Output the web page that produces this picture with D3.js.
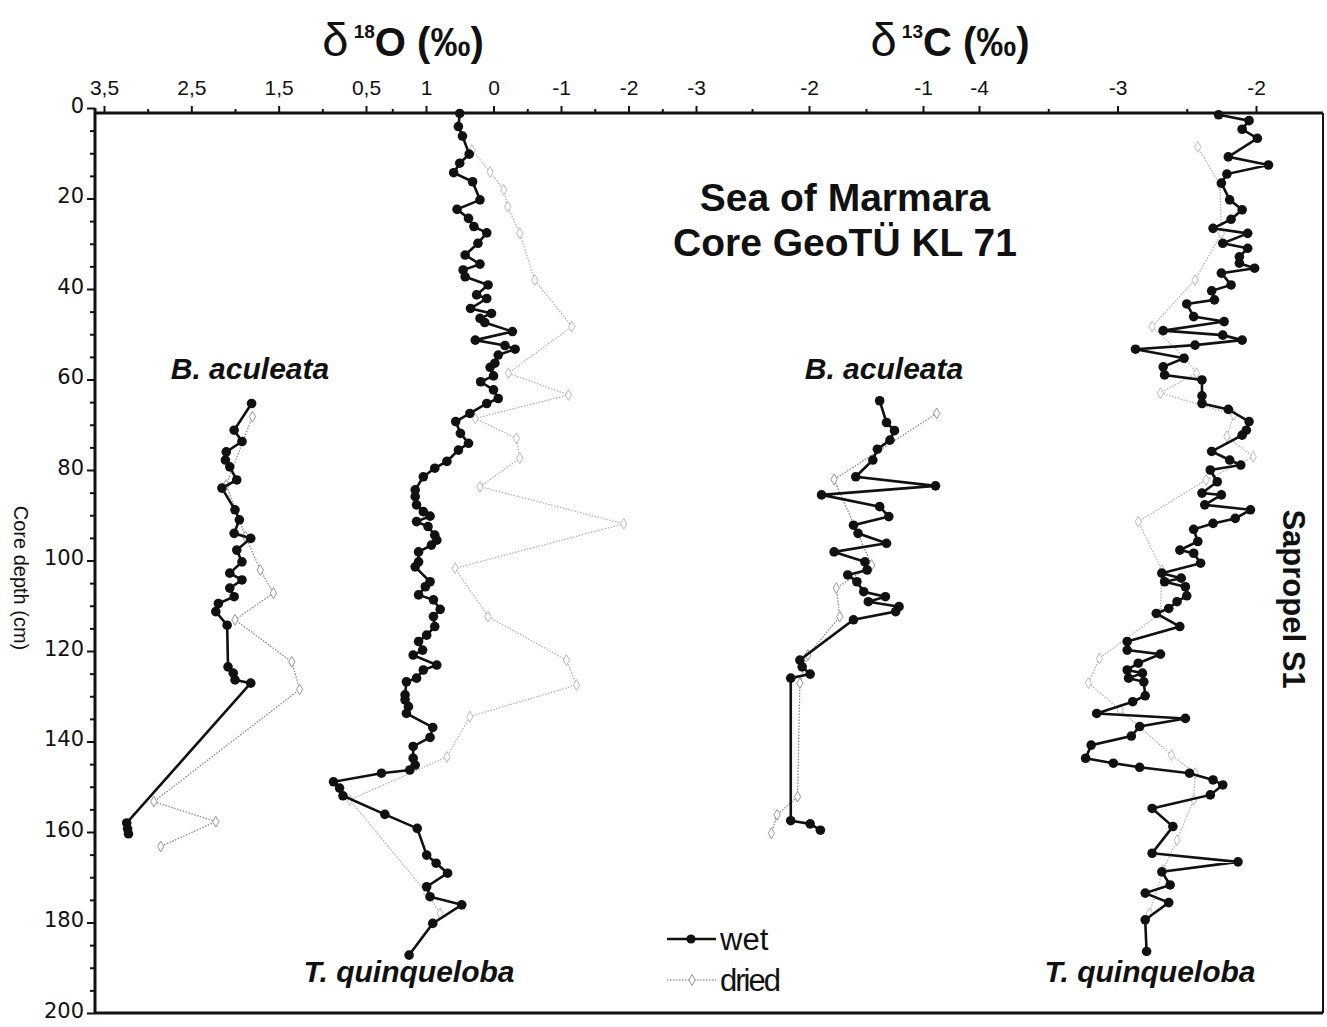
<!DOCTYPE html>
<html>
<head>
<meta charset="utf-8">
<script src="https://cdn.jsdelivr.net/npm/d3@7"></script>
<style>
  body { margin: 0; background: #fff; }
  svg { display: block; }
  text { font-family: Arial, "Liberation Sans", sans-serif; fill: #111; }
  .narrow { font-family: "Liberation Sans Narrow", "Arial Narrow", Arial, sans-serif; }
  .wide { font-family: "DejaVu Sans", Verdana, sans-serif; }
</style>
</head>
<body>
<svg id="chart" width="1327" height="1027"></svg>
<script>
// [core depth (cm), isotope value (permil)]
const baO18Wet = [[65.3,1.81],[71.2,2.01],[73.7,1.92],[76.0,2.10],[77.8,2.11],[79.3,2.06],[82.2,1.98],[84.0,2.15],
  [88.8,2.00],[91.0,1.95],[94.0,2.01],[95.1,1.82],[97.7,1.98],[100.3,1.92],[102.8,2.06],[104.3,1.92],[106.1,2.06],
  [108.0,2.01],[109.5,2.19],[111.3,2.22],[114.3,2.09],[123.5,2.08],[124.9,2.02],[126.4,2.00],[127.1,1.82],
  [158.0,3.24],[159.3,3.23],[160.4,3.22]];
const baO18Dry = [[68.2,1.80],[83.3,2.10],[94.7,1.88],[102.1,1.71],[107.2,1.56],[113.1,2.00],[122.4,1.35],
  [128.5,1.26],[153.3,2.93],[157.7,2.22],[163.2,2.85]];

const tqO18Wet = [[1.2,0.50],[4.1,0.52],[6.2,0.46],[10.2,0.36],[12.2,0.50],[14.3,0.59],[16.3,0.31],[20.3,0.20],
  [22.4,0.54],[24.4,0.37],[26.2,0.29],[27.6,0.10],[29.9,0.23],[32.5,0.42],[34.5,0.20],[35.8,0.45],[37.3,0.42],
  [39.1,0.08],[41.3,0.25],[42.1,0.10],[44.3,0.34],[45.4,0.03],[46.5,0.20],[47.4,0.13],[49.4,-0.28],[51.3,0.27],
  [52.5,-0.17],[53.3,-0.32],[54.6,-0.07],[56.4,-0.02],[57.3,0.05],[59.2,0.00],[60.5,0.19],[62.3,0.00],[64.2,-0.07],
  [65.3,0.10],[67.5,0.35],[69.3,0.56],[71.9,0.49],[74.1,0.37],[75.6,0.52],[78.1,0.69],[79.6,0.87],[81.5,1.04],
  [84.4,1.16],[85.9,1.16],[87.7,1.14],[89.2,1.04],[90.2,0.94],[91.4,1.14],[92.5,0.97],[94.4,0.87],[95.5,0.84],
  [96.6,0.92],[98.1,1.11],[100.3,1.11],[101.4,1.16],[104.7,0.94],[105.8,1.01],[107.6,1.11],[108.7,0.89],[110.8,0.79],
  [112.4,0.89],[114.6,0.87],[116.5,0.99],[117.9,1.11],[119.8,1.05],[120.9,1.19],[123.1,0.84],[124.2,1.04],[126.0,1.14],
  [126.8,1.29],[129.7,1.31],[130.8,1.31],[132.3,1.26],[133.8,1.29],[136.9,0.90],[139.1,0.94],[141.1,1.19],[143.7,1.19],
  [145.2,1.16],[146.3,1.24],[147.0,1.66],[148.9,2.37],[150.3,2.28],[152.0,2.23],[156.1,1.61],[159.2,1.13],[165.1,0.99],
  [166.9,0.85],[169.1,0.68],[172.1,0.99],[174.3,0.94],[176.1,0.47],[180.2,0.90],[187.2,1.25]];
const tqO18Dry = [[9.3,0.32],[14.1,0.05],[18.1,-0.15],[21.8,-0.21],[27.7,-0.39],[38.0,-0.61],[48.3,-1.16],
  [58.6,-0.22],[63.4,-1.11],[68.6,0.27],[73.0,-0.34],[77.4,-0.39],[83.7,0.20],[91.9,-1.93],[101.7,0.57],[112.4,0.08],
  [122.0,-1.08],[127.5,-1.23],[134.5,0.35],[143.4,0.69],[152.9,2.13],[173.5,0.99],[178.0,0.79]];

const baC13Wet = [[64.7,-1.38],[69.5,-1.32],[71.3,-1.25],[73.4,-1.29],[75.4,-1.40],[77.8,-1.44],[81.5,-1.59],
  [83.5,-0.89],[85.5,-1.89],[88.1,-1.38],[90.3,-1.30],[92.2,-1.61],[94.0,-1.57],[96.2,-1.32],[98.1,-1.78],[100.3,-1.51],
  [102.1,-1.49],[103.2,-1.66],[104.7,-1.58],[106.9,-1.52],[108.0,-1.33],[109.1,-1.48],[110.2,-1.21],[111.3,-1.24],
  [113.1,-1.61],[122.0,-2.08],[123.5,-2.06],[125.1,-1.99],[126.0,-2.16],[157.5,-2.16],[158.2,-1.99],[159.6,-1.90]];
const baC13Dry = [[67.5,-0.88],[82.1,-1.78],[101.0,-1.45],[106.1,-1.76],[112.4,-1.73],[120.9,-2.01],[127.1,-2.08],
  [152.2,-2.10],[156.2,-2.28],[160.3,-2.33]];

const tqC13Wet = [[1.5,-2.27],[2.8,-2.05],[4.7,-2.10],[6.7,-1.99],[10.8,-2.20],[12.6,-1.91],[14.6,-2.21],[16.6,-2.25],
  [20.3,-2.19],[22.5,-2.10],[24.6,-2.18],[26.6,-2.31],[27.7,-2.06],[29.9,-2.24],[31.0,-2.06],[32.9,-2.12],[34.3,-2.12],
  [35.4,-2.01],[36.5,-2.25],[39.1,-2.18],[40.4,-2.32],[42.4,-2.30],[43.3,-2.50],[46.1,-2.45],[47.2,-2.23],[49.2,-2.67],
  [50.2,-2.24],[51.3,-2.10],[52.4,-2.44],[53.3,-2.87],[55.3,-2.52],[57.2,-2.67],[59.0,-2.66],[60.1,-2.39],[63.6,-2.39],
  [65.3,-2.39],[66.6,-2.20],[69.3,-2.05],[71.2,-2.07],[72.3,-2.10],[75.9,-2.32],[77.8,-2.19],[78.9,-2.11],[80.0,-2.33],
  [82.6,-2.28],[85.1,-2.39],[85.5,-2.25],[87.7,-2.37],[88.8,-2.04],[90.7,-2.15],[91.8,-2.31],[93.1,-2.45],[95.8,-2.42],
  [97.7,-2.55],[98.4,-2.45],[100.6,-2.40],[102.8,-2.68],[103.9,-2.54],[104.7,-2.66],[105.8,-2.51],[107.8,-2.50],
  [109.1,-2.57],[110.6,-2.63],[111.7,-2.72],[114.6,-2.55],[117.9,-2.93],[119.8,-2.93],[120.7,-2.69],[122.7,-2.85],
  [124.2,-2.93],[124.9,-2.82],[126.0,-2.92],[126.8,-2.81],[129.9,-2.80],[131.2,-2.89],[133.8,-3.15],[134.9,-2.51],
  [136.7,-2.84],[138.8,-2.90],[140.8,-3.19],[143.7,-3.23],[144.8,-3.03],[145.7,-2.84],[147.0,-2.48],[148.5,-2.31],
  [149.6,-2.24],[151.8,-2.33],[154.8,-2.75],[158.8,-2.60],[164.7,-2.75],[166.6,-2.13],[168.8,-2.68],[171.7,-2.62],
  [173.5,-2.80],[175.6,-2.63],[179.4,-2.80],[186.4,-2.79]];
const tqC13Dry = [[8.6,-2.42],[17.0,-2.26],[27.7,-2.25],[38.0,-2.44],[48.3,-2.75],[55.3,-2.51],[58.6,-2.43],
  [63.0,-2.69],[67.8,-2.16],[72.6,-2.21],[77.1,-2.02],[82.2,-2.36],[91.4,-2.85],[102.1,-2.68],[111.7,-2.69],
  [121.6,-3.13],[127.1,-3.21],[133.0,-2.98],[143.0,-2.61],[147.0,-2.44],[152.9,-2.45],[161.8,-2.57],[168.4,-2.67],
  [178.0,-2.77]];

// tick values for the four stacked top axes
const baO18Major = [3.5, 2.5, 1.5, 0.5], baO18Minor = [3, 2, 1];
const tqO18Major = [1, 0, -1, -2, -3], tqO18Minor = [1.5, 0.5, -0.5, -1.5, -2.5];
const baC13Major = [-2, -1], baC13Minor = [-2.5, -1.5];
const tqC13Major = [-4, -3, -2], tqC13Minor = [-3.5, -2.5];
const depthMajor = d3.range(0, 201, 20), depthMinor = d3.range(5, 200, 5).filter(d => d % 20);

const svg = d3.select("#chart");
const left = 95, right = 1323, axisY = 113, bottom = 1013;

const y = d3.scaleLinear().domain([0, 200]).range([108, bottom]);
const xBaO = d3.scaleLinear().domain([3.5, 0.5]).range([104, 366]);
const xTqO = d3.scaleLinear().domain([1, -3]).range([426, 696]);
const xBaC = d3.scaleLinear().domain([-3, -1]).range([695, 923]);
const xTqC = d3.scaleLinear().domain([-4, -2]).range([979, 1256]);

const fmt = d => (d < 0 ? "-" : "") + String(Math.abs(d)).replace(".", ",");

// top axes
function topAxis(scale, major, minor) {
  const gMin = svg.append("g").attr("transform", `translate(0,${axisY})`)
    .call(d3.axisTop(scale).tickValues(minor).tickSize(4).tickFormat(""));
  const gMaj = svg.append("g").attr("transform", `translate(0,${axisY})`)
    .call(d3.axisTop(scale).tickValues(major).tickSize(7).tickPadding(11).tickFormat(fmt));
  [gMin, gMaj].forEach(g => {
    g.select(".domain").remove();
    g.selectAll("line").attr("stroke", "#111").attr("stroke-width", 2);
  });
  gMaj.selectAll("text").attr("class", "narrow").style("font-size", "21px").attr("fill", "#111");
}
topAxis(xBaO, baO18Major, baO18Minor);
topAxis(xTqO, tqO18Major, tqO18Minor);
topAxis(xBaC, baC13Major, baC13Minor);
topAxis(xTqC, tqC13Major, tqC13Minor);

// depth axis
const gyMin = svg.append("g").attr("transform", `translate(${left},0)`)
  .call(d3.axisLeft(y).tickValues(depthMinor).tickSize(5).tickFormat(""));
const gyMaj = svg.append("g").attr("transform", `translate(${left},0)`)
  .call(d3.axisLeft(y).tickValues(depthMajor).tickSize(8).tickPadding(3));
[gyMin, gyMaj].forEach(g => {
  g.select(".domain").remove();
  g.selectAll("line").attr("stroke", "#111").attr("stroke-width", 2);
});
gyMaj.selectAll("text").attr("class", "wide").style("font-size", "21px").attr("fill", "#111")
  .attr("dy", "0.2em");

// frame
const frame = svg.append("g").attr("stroke", "#111").attr("fill", "none");
frame.append("line").attr("x1", left).attr("x2", right).attr("y1", axisY).attr("y2", axisY).attr("stroke-width", 3);
frame.append("line").attr("x1", left).attr("x2", left).attr("y1", y(0)).attr("y2", bottom).attr("stroke-width", 3);
frame.append("line").attr("x1", right).attr("x2", right).attr("y1", axisY).attr("y2", bottom).attr("stroke-width", 2);
frame.append("line").attr("x1", left).attr("x2", right).attr("y1", bottom).attr("y2", bottom).attr("stroke-width", 3);

// series
const diamond = d3.symbol().type(d3.symbolDiamond).size(34);

function drawDry(data, xs, col) {
  const g = svg.append("g");
  g.append("path").datum(data)
    .attr("d", d3.line().x(d => xs(d[1])).y(d => y(d[0])))
    .attr("fill", "none").attr("stroke", col).attr("stroke-width", 1.3)
    .attr("stroke-dasharray", "1.5,1.5");
  g.selectAll("path.m").data(data).join("path").attr("class", "m")
    .attr("d", diamond)
    .attr("transform", d => `translate(${xs(d[1])},${y(d[0])})`)
    .attr("fill", "#fff").attr("stroke", col).attr("stroke-width", 0.9);
}
function drawWet(data, xs) {
  const g = svg.append("g");
  g.append("path").datum(data)
    .attr("d", d3.line().x(d => xs(d[1])).y(d => y(d[0])))
    .attr("fill", "none").attr("stroke", "#111").attr("stroke-width", 2.6);
  g.selectAll("circle").data(data).join("circle")
    .attr("cx", d => xs(d[1])).attr("cy", d => y(d[0])).attr("r", 4.8)
    .attr("fill", "#111");
}
drawDry(baO18Dry, xBaO, "#8a8a8a"); drawWet(baO18Wet, xBaO);
drawDry(tqO18Dry, xTqO, "#b4b4b4"); drawWet(tqO18Wet, xTqO);
drawDry(baC13Dry, xBaC, "#8a8a8a"); drawWet(baC13Wet, xBaC);
drawDry(tqC13Dry, xTqC, "#b4b4b4"); drawWet(tqC13Wet, xTqC);

// titles
function isoTitle(cx, mass, el) {
  const t = svg.append("text").attr("class", "narrow").attr("x", cx).attr("y", 56)
    .attr("text-anchor", "middle").style("font-weight", "bold");
  t.append("tspan").text("δ").style("font-size", "47px").style("font-weight", "normal");
  t.append("tspan").text(" " + mass).style("font-size", "19px").attr("dy", -18);
  t.append("tspan").text(el + " (‰)").style("font-size", "40px").attr("dy", 18);
}
isoTitle(403, "18", "O");
isoTitle(950, "13", "C");

svg.append("text").attr("x", 845).attr("y", 211).attr("text-anchor", "middle")
  .style("font-size", "39px").style("font-weight", "bold").text("Sea of Marmara");
svg.append("text").attr("x", 845).attr("y", 256).attr("text-anchor", "middle")
  .style("font-size", "39px").style("font-weight", "bold").text("Core GeoTÜ KL 71");

const species = [
  { label: "B. aculeata", x: 250, y: 379 },
  { label: "B. aculeata", x: 884, y: 379 },
  { label: "T. quinqueloba", x: 409, y: 982 },
  { label: "T. quinqueloba", x: 1150, y: 982 }
];
svg.selectAll("text.sp").data(species).join("text").attr("class", "sp")
  .attr("x", d => d.x).attr("y", d => d.y).attr("text-anchor", "middle")
  .style("font-size", "30px").style("font-weight", "bold").style("font-style", "italic")
  .text(d => d.label);

svg.append("text").attr("transform", "translate(1283,599) rotate(90)").attr("text-anchor", "middle")
  .style("font-size", "31px").style("font-weight", "bold").text("Sapropel S1");
svg.append("text").attr("class", "narrow").attr("transform", "translate(14,578) rotate(90)")
  .attr("text-anchor", "middle").style("font-size", "20px").text("Core depth (cm)");

// legend
const leg = svg.append("g");
leg.append("line").attr("x1", 667).attr("x2", 716).attr("y1", 939).attr("y2", 939)
  .attr("stroke", "#111").attr("stroke-width", 2.4);
leg.append("circle").attr("cx", 691).attr("cy", 939).attr("r", 4.6).attr("fill", "#111");
leg.append("text").attr("x", 720).attr("y", 950).style("font-size", "31px").text("wet");
leg.append("line").attr("x1", 667).attr("x2", 716).attr("y1", 980).attr("y2", 980)
  .attr("stroke", "#9a9a9a").attr("stroke-width", 1.3).attr("stroke-dasharray", "1.5,1.5");
leg.append("path").attr("d", diamond).attr("transform", "translate(692,980)")
  .attr("fill", "#fff").attr("stroke", "#888").attr("stroke-width", 0.9);
leg.append("text").attr("x", 720).attr("y", 991).style("font-size", "31px")
  .style("letter-spacing", "-2px").text("dried");
</script>
</body>
</html>
